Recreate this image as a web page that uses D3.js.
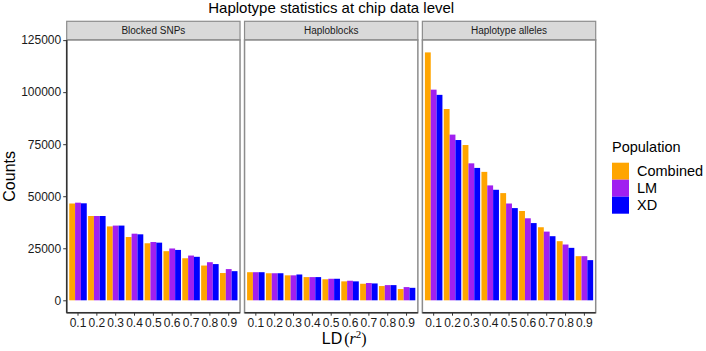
<!DOCTYPE html>
<html lang="en">
<head>
<meta charset="utf-8">
<title>Haplotype statistics at chip data level</title>
<script src="https://d3js.org/d3.v7.min.js"></script>
<style>
  body { margin: 0; background: #fff; }
  svg { display: block; font-family: 'Liberation Sans', Arial, sans-serif; }
  .title { font-size: 15px; fill: #000; }
  .strip-label { font-size: 10px; fill: #1a1a1a; }
  .tick-label { font-size: 12px; fill: #1a1a1a; }
  .x-tick-label { font-size: 12px; fill: #1a1a1a; }
  .axis-title { font-size: 16px; fill: #000; }
  .legend-title { font-size: 14.5px; fill: #000; }
  .legend-label { font-size: 14.5px; fill: #000; }
</style>
</head>
<body>
<svg width="706" height="351"></svg>
<script>
// categories
const ldLevels = ['0.1', '0.2', '0.3', '0.4', '0.5', '0.6', '0.7', '0.8', '0.9'];
const populations = ['Combined', 'LM', 'XD'];
const statistics = ['Blocked SNPs', 'Haploblocks', 'Haplotype alleles'];
const popColors = ['#FFA500', '#A020F0', '#0000FF'];
const yTicks = [0, 25000, 50000, 75000, 100000, 125000];

// series values
const snpCombined = [46500, 40500, 35500, 30400, 27400, 23600, 20200, 16700, 13100];
const snpLM       = [46900, 40500, 35900, 32000, 28000, 24900, 21500, 18300, 15000];
const snpXD       = [46600, 40500, 35900, 31700, 27700, 24200, 20900, 17400, 14000];

const blockCombined = [13500, 13000, 12000, 11150, 10100, 9100, 7950, 6850, 5400];
const blockLM       = [13500, 13000, 12000, 11150, 10350, 9400, 8300, 7300, 6350];
const blockXD       = [13500, 13000, 12400, 11150, 10350, 9100, 8100, 7300, 6000];

const alleleCombined = [119100, 91900, 74600, 61700, 51500, 42900, 35100, 28400, 21200];
const alleleLM       = [101200, 79600, 65800, 55200, 46500, 39400, 33000, 26800, 21200];
const alleleXD       = [98700, 77000, 63600, 53100, 44300, 37100, 30800, 25200, 19300];

const seriesByStat = {
  'Blocked SNPs': [snpCombined, snpLM, snpXD],
  'Haploblocks': [blockCombined, blockLM, blockXD],
  'Haplotype alleles': [alleleCombined, alleleLM, alleleXD]
};

// flat table for drawing
const rows = [];
statistics.forEach(stat => {
  seriesByStat[stat].forEach((vals, pi) => {
    vals.forEach((v, li) => rows.push({ stat, pop: populations[pi], ld: ldLevels[li], value: v }));
  });
});

const svg = d3.select('svg');

const plotLeft = 66.7, plotRight = 595.7;
const panelTop = 40, panelBottom = 312.7;
const stripTop = 21.3;
const panelGap = 4.5;

const facet = d3.scaleBand()
  .domain(statistics)
  .range([plotLeft, plotRight + panelGap])
  .paddingInner(0);
const panelW = facet.bandwidth() - panelGap;

const maxVal = d3.max(rows, d => d.value);
const yScale = d3.scaleLinear()
  .domain([-maxVal * 0.05, maxVal * 1.05])
  .range([panelBottom, panelTop]);

const xScale = d3.scaleBand()
  .domain(ldLevels)
  .range([0, panelW])
  .paddingInner(0.07)
  .paddingOuter(0.135);

const popScale = d3.scaleBand()
  .domain(populations)
  .range([0, xScale.bandwidth()]);

const color = d3.scaleOrdinal().domain(populations).range(popColors);

// title
svg.append('text')
  .attr('class', 'title')
  .attr('x', (plotLeft + plotRight) / 2)
  .attr('y', 13)
  .attr('text-anchor', 'middle')
  .text('Haplotype statistics at chip data level');

const panels = svg.selectAll('g.panel')
  .data(statistics)
  .enter()
  .append('g')
  .attr('class', 'panel')
  .attr('transform', d => `translate(${facet(d)}, 0)`);

// strips
panels.append('rect')
  .attr('x', 0)
  .attr('y', stripTop)
  .attr('width', panelW)
  .attr('height', panelTop - stripTop)
  .attr('fill', '#d9d9d9')
  .attr('stroke', '#8c8c8c')
  .attr('stroke-width', 1.2);

panels.append('text')
  .attr('class', 'strip-label')
  .attr('x', panelW / 2)
  .attr('y', (stripTop + panelTop) / 2 + 3.5)
  .attr('text-anchor', 'middle')
  .text(d => d);

// panel background
panels.append('rect')
  .attr('x', 0)
  .attr('y', panelTop)
  .attr('width', panelW)
  .attr('height', panelBottom - panelTop)
  .attr('fill', '#fff');

// bars
panels.each(function (stat) {
  const g = d3.select(this);
  g.selectAll('rect.bar')
    .data(rows.filter(r => r.stat === stat))
    .enter()
    .append('rect')
    .attr('class', 'bar')
    .attr('x', d => xScale(d.ld) + popScale(d.pop))
    .attr('y', d => yScale(d.value))
    .attr('width', popScale.bandwidth())
    .attr('height', d => yScale(0) - yScale(d.value))
    .attr('fill', d => color(d.pop));
});

// panel border
panels.append('rect')
  .attr('x', 0)
  .attr('y', panelTop)
  .attr('width', panelW)
  .attr('height', panelBottom - panelTop)
  .attr('fill', 'none')
  .attr('stroke', '#8c8c8c')
  .attr('stroke-width', 1.5);

// bottom axis line per panel + ticks + labels
panels.append('line')
  .attr('x1', 0).attr('x2', panelW)
  .attr('y1', panelBottom).attr('y2', panelBottom)
  .attr('stroke', '#333').attr('stroke-width', 1.5);

panels.each(function () {
  const g = d3.select(this);
  const ax = g.append('g').attr('transform', `translate(0, ${panelBottom})`);
  ax.call(d3.axisBottom(xScale).tickSize(3).tickPadding(3));
  ax.attr('font-family', null).attr('font-size', null);
  ax.select('.domain').remove();
  ax.selectAll('.tick line').attr('stroke', '#333');
  ax.selectAll('.tick text')
    .attr('class', 'x-tick-label')
    .attr('fill', null);
});

// left axis (first panel only)
const yAxis = svg.append('g').attr('transform', `translate(${plotLeft}, 0)`);
yAxis.call(d3.axisLeft(yScale).tickValues(yTicks).tickFormat(d3.format('d')).tickSize(3.5).tickPadding(2));
yAxis.attr('font-family', null).attr('font-size', null);
yAxis.select('.domain').remove();
yAxis.selectAll('.tick line').attr('stroke', '#333');
yAxis.selectAll('.tick text')
  .attr('class', 'tick-label')
  .attr('fill', null);
svg.append('line')
  .attr('x1', plotLeft).attr('x2', plotLeft)
  .attr('y1', panelTop).attr('y2', panelBottom)
  .attr('stroke', '#333').attr('stroke-width', 1.5);

// axis titles
svg.append('text')
  .attr('class', 'axis-title')
  .attr('transform', `translate(15, ${(panelTop + panelBottom) / 2}) rotate(-90)`)
  .attr('text-anchor', 'middle')
  .text('Counts');

const xTitle = svg.append('text')
  .attr('class', 'axis-title')
  .attr('x', (plotLeft + plotRight) / 2 + 13)
  .attr('y', 344)
  .attr('text-anchor', 'middle');
xTitle.append('tspan').text('LD');
xTitle.append('tspan').attr('font-family', "'Liberation Serif', serif").attr('dx', 2).text('(');
xTitle.append('tspan').attr('font-family', "'Liberation Serif', serif").attr('font-style', 'italic').text('r');
xTitle.append('tspan').attr('font-family', "'Liberation Serif', serif").attr('font-size', '11px').attr('dy', -6).text('2');
xTitle.append('tspan').attr('font-family', "'Liberation Serif', serif").attr('dy', 6).text(')');

// legend
const legend = svg.append('g').attr('transform', 'translate(612, 0)');
legend.append('text')
  .attr('class', 'legend-title')
  .attr('x', 0)
  .attr('y', 152)
  .text('Population');

const keySize = 17;
const keys = legend.selectAll('g.key')
  .data(populations)
  .enter()
  .append('g')
  .attr('class', 'key')
  .attr('transform', (d, i) => `translate(0, ${162.7 + i * keySize})`);
keys.append('rect')
  .attr('width', keySize)
  .attr('height', keySize)
  .attr('fill', d => color(d));
keys.append('text')
  .attr('class', 'legend-label')
  .attr('x', 25)
  .attr('y', keySize / 2 + 5)
  .text(d => d);
</script>
</body>
</html>
